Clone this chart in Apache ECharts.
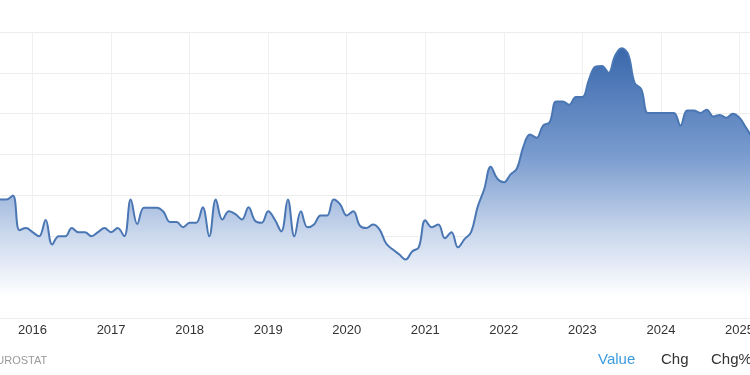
<!DOCTYPE html>
<html>
<head>
<meta charset="utf-8">
<script src="https://cdn.jsdelivr.net/npm/echarts@6/dist/echarts.min.js"></script>
<style>
html,body{margin:0;padding:0;background:#fff;width:750px;height:375px;overflow:hidden;position:relative;}
/* the reference is a cropped view of a wider chart: the canvas runs past both edges */
#c{position:absolute;left:-46px;top:0;width:864px;height:375px;}
</style>
</head>
<body>
<div id="c"></div>
<script>
// Monthly values, Aug 2015 – Mar 2025
const startYear = 2015;
const startMonthIndex = 7; // August
const values2015 = [1.9, 1.9, 2.0, 1.15, 1.2];
const values2016 = [1.1, 1.0, 1.4, 0.8, 1.0, 1.0, 1.2, 1.1, 1.1, 1.0, 1.1, 1.2];
const values2017 = [1.1, 1.2, 1.0, 1.9, 1.3, 1.7, 1.7, 1.7, 1.6, 1.35, 1.35, 1.22];
const values2018 = [1.33, 1.33, 1.71, 1.0, 1.9, 1.41, 1.61, 1.54, 1.41, 1.71, 1.38, 1.33];
const values2019 = [1.61, 1.41, 1.12, 1.9, 1.0, 1.61, 1.22, 1.29, 1.51, 1.51, 1.9, 1.78];
const values2020 = [1.51, 1.61, 1.26, 1.2, 1.29, 1.17, 0.83, 0.68, 0.56, 0.43, 0.63, 0.73];
const values2021 = [1.39, 1.22, 1.29, 0.95, 1.1, 0.73, 0.93, 1.1, 1.72, 2.15, 2.7, 2.41];
const values2022 = [2.32, 2.51, 2.66, 3.2, 3.49, 3.41, 3.71, 3.79, 4.3, 4.3, 4.22, 4.41];
const values2023 = [4.41, 4.83, 5.15, 5.17, 5.0, 5.42, 5.6, 5.45, 4.75, 4.6, 4.02, 4.02];
const values2024 = [4.02, 4.02, 4.02, 3.71, 4.08, 4.08, 4.02, 4.1, 3.93, 3.97, 3.9, 4.0];
const values2025 = [3.9, 3.66, 3.4];

const yearTicks = [2015, 2016, 2017, 2018, 2019, 2020, 2021, 2022, 2023, 2024, 2025, 2026];
const yTicks = [-1, 0, 1, 2, 3, 4, 5, 6];
const sourceText = 'EUROSTAT';
const tabLabels = ['Value', 'Chg', 'Chg%'];

const allValues = [].concat(values2015, values2016, values2017, values2018, values2019,
  values2020, values2021, values2022, values2023, values2024, values2025);
// x = decimal year (month start)
const seriesData = allValues.map((v, i) => [startYear + (startMonthIndex + i) / 12, v]);

const FONT = 'Liberation Sans, Arial, sans-serif';
const OFF = 46; // canvas offset relative to the visible window
const chart = echarts.init(document.getElementById('c'), null, {renderer: 'canvas'});
chart.setOption({
  animation: false,
  backgroundColor: '#ffffff',
  grid: {left: 0, right: 0, top: 32, bottom: 57, containLabel: false, outerBoundsMode: 'none'},
  xAxis: {
    type: 'value',
    min: yearTicks[0],
    max: yearTicks[yearTicks.length - 1],
    interval: 1,
    axisLine: {show: true, lineStyle: {color: '#e6e6e6', width: 1}},
    axisTick: {show: false},
    splitLine: {show: true, lineStyle: {color: '#f0f0f0', width: 1}},
    axisLabel: {
      color: '#333',
      fontSize: 13,
      fontFamily: FONT,
      margin: 6,
      formatter: function (val) { return String(Math.round(val)); }
    }
  },
  yAxis: {
    type: 'value',
    min: yTicks[0],
    max: yTicks[yTicks.length - 1],
    interval: 1,
    axisLabel: {show: false},
    axisLine: {show: false},
    axisTick: {show: false},
    splitLine: {show: true, lineStyle: {color: '#ececec', width: 1}}
  },
  series: [{
    type: 'line',
    data: seriesData,
    smooth: 0.4,
    symbol: 'none',
    lineStyle: {color: '#4a77b4', width: 2},
    areaStyle: {
      origin: 'start',
      opacity: 1,
      color: new echarts.graphic.LinearGradient(0, 0, 0, 1, [
        {offset: 0, color: 'rgba(58,104,172,1)'},
        {offset: 0.4, color: 'rgba(122,156,207,1)'},
        {offset: 0.68, color: 'rgba(200,214,236,1)'},
        {offset: 0.92, color: 'rgba(255,255,255,1)'},
        {offset: 1, color: 'rgba(255,255,255,1)'}
      ])
    }
  }],
  graphic: [
    {type: 'text', left: OFF - 11, top: 355, style: {text: sourceText, fill: '#9a9a9a', fontSize: 11, fontFamily: FONT}},
    {type: 'text', left: OFF + 598, top: 352, style: {text: tabLabels[0], fill: '#3d9be0', fontSize: 15, fontFamily: FONT}},
    {type: 'text', left: OFF + 661, top: 352, style: {text: tabLabels[1], fill: '#333', fontSize: 15, fontFamily: FONT}},
    {type: 'text', left: OFF + 711, top: 352, style: {text: tabLabels[2], fill: '#333', fontSize: 15, fontFamily: FONT}}
  ]
});
</script>
</body>
</html>
